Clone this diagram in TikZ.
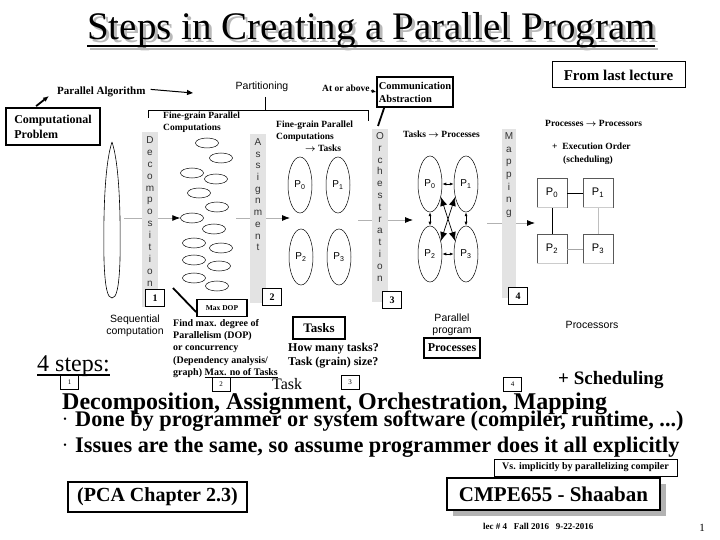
\documentclass[tikz,border=0pt]{standalone}
\usepackage{fontspec}
\setmainfont{Liberation Serif}
\setsansfont{Liberation Sans}
\usetikzlibrary{shapes.geometric,arrows.meta}
\newcommand\fsz[2]{\fontsize{#1}{#2}\selectfont}
\begin{document}
\begin{tikzpicture}[x=1pt,y=-1pt,
 bs/.style={font=\bfseries\fsz{10}{12},inner sep=0pt,align=left},
 sf/.style={font=\sffamily\fsz{10.5}{12},inner sep=0pt,align=center},
 colbar/.style={fill=gray!22,draw=none},
 colletter/.style={font=\sffamily\fsz{10}{12},inner sep=0pt,text=black!80,anchor=base},
 numbox/.style={draw,line width=0.8pt,font=\bfseries\fsz{10}{12},minimum width=19,minimum height=17,inner sep=0,fill=white},
 tinybox/.style={draw,line width=0.6pt,font=\fsz{7}{8},minimum width=18,minimum height=14,inner sep=0},
 smallell/.style={ellipse,draw,line width=0.5pt,minimum width=23,minimum height=10,inner sep=0},
 pell/.style={ellipse,draw,line width=0.5pt,minimum width=24,minimum height=56,inner sep=0,font=\sffamily\fsz{10}{12}},
 mbox/.style={draw=black!65,line width=0.6pt,minimum width=30,minimum height=29,inner sep=0,font=\sffamily\fsz{11}{12}},
 flow/.style={draw=gray!60,line width=0.8pt,-{Latex[length=8,width=6,color=black]}},
 thickbox/.style={draw,line width=1.8pt,inner sep=0},
 thinbox/.style={draw,line width=1pt,inner sep=0},
 blk/.style={line width=1.8pt,-{Latex[length=6,width=5]}}
]
\useasboundingbox (0,0) rectangle (720,540);

% ---- title ----
\node[anchor=base west,inner sep=0,text=gray!55,font=\fsz{39}{44}] (titsh) at (90,43) {Steps in Creating a Parallel Program};
\draw[gray!55,line width=2.5pt] (90,49) -- (658,49);
\node[anchor=base west,inner sep=0,font=\fsz{39}{44}] (title) at (87,40) {Steps in Creating a Parallel Program};
\draw[line width=2.5pt] (87,46) -- (655,46);

% ---- From last lecture ----
\node[thinbox,minimum width=133,minimum height=26,font=\bfseries\fsz{15}{17}] (flast) at (618.5,75) {From last lecture};

% ---- top labels ----
\node[bs,anchor=base west,font=\bfseries\fsz{11}{13}] (palg) at (57,95) {Parallel Algorithm};
\coordinate (palgE) at (193,93);
\draw[line width=1pt,-{Triangle[length=6,width=5]}] (palg.east) ++(5,-3) coordinate (palgS) -- (palgE);

\node[thickbox,minimum width=94,minimum height=37,align=left,font=\bfseries\fsz{12}{15}] (comp) at (53,126.5) {Computational\\Problem};
\coordinate (compT) at (49,96);
\draw[blk] (comp.north west) ++(31,-1) -- (compT);

\node[sf,anchor=base] (part) at (262,90) {Partitioning};
\coordinate (pt1) at (265,97);
\coordinate (pt2) at (265,110);
\draw[line width=0.7pt] (pt1) -- (pt2);
\draw[line width=0.7pt] (148,118) -- (148,110) -- (368,110) -- (368,121);

\node[bs,anchor=base west,font=\bfseries\fsz{9.5}{11}] (above) at (322,92) {At or above};
\node[thickbox,minimum width=76,minimum height=30,align=left,font=\bfseries\fsz{10.5}{13}] (comm) at (415,92) {Communication\\Abstraction};
\draw[line width=1.2pt,-{Latex[length=4,width=4]}] (above.east) ++(1,2) -- (comm.west);
\coordinate (orchT) at (378,126);
\draw[line width=1.8pt] (comm.south west) ++(8,0) -- (orchT);

% ---- sequential computation ----
\draw[line width=0.6pt] (112,142) .. controls (118,160) and (121,200) .. (120,260) .. controls (119,290) and (116,298) .. (112,298) .. controls (108,298) and (105,290) .. (104,260) .. controls (103,200) and (106,160) .. (112,142);
\coordinate (seqE) at (124,218);
\node[sf] (seqt) at (135,326) {Sequential\\computation};

% ---- decomposition ellipses ----
\foreach \n/\x/\y in {1/207/143,2/221/158,3/192/173,4/216/179,5/199/193,6/217/207,7/192/218,8/214/229,9/194/243,10/221/248,11/194/260,12/219/266,13/194/278,14/217/286}
  \node[smallell] (e\n) at (\x,\y) {};

% ---- flow lines (behind bars) ----
\draw[flow] (seqE) -- (e7.west);
\coordinate (dA) at (236,218);
\coordinate (dB) at (290,218);
\draw[flow] (dA) -- (dB);
\coordinate (oA) at (358,220);
\coordinate (oB) at (413,220);
\draw[flow] (oA) -- (oB);
\coordinate (mA) at (487,223);
\coordinate (mB) at (535,223);
\draw[flow] (mA) -- (mB);

% ---- bars ----
\fill[colbar] (142,132) rectangle (158,307);
\foreach \l [count=\i] in {D,e,c,o,m,p,o,s,i,t,i,o,n}
  \node[colletter] (dec\i) at (150,{143.5+(\i-1)*11.9}) {\l};
\node[numbox] (n1) at (155,298) {1};

\fill[colbar] (250,134) rectangle (266,303);
\foreach \l [count=\i] in {A,s,s,i,g,n,m,e,n,t}
  \node[colletter] (asg\i) at (258,{145.5+(\i-1)*11.7}) {\l};
\node[numbox] (n2) at (272,297) {2};

\fill[colbar] (372,129) rectangle (388,302);
\foreach \l [count=\i] in {O,r,c,h,e,s,t,r,a,t,i,o,n}
  \node[colletter] (orc\i) at (380,{139.5+(\i-1)*11.8}) {\l};
\node[numbox] (n3) at (392,300) {3};

\fill[colbar] (502,129) rectangle (516,298);
\foreach \l [count=\i] in {M,a,p,p,i,n,g}
  \node[colletter] (map\i) at (509,{139.5+(\i-1)*12.7}) {\l};
\node[numbox] (n4) at (518,296) {4};

% ---- fine-grain labels ----
\node[bs,anchor=north west,font=\bfseries\fsz{9.5}{12}] (fg1) at (163,112) {Fine-grain Parallel\\Computations};
\node[bs,anchor=north west,font=\bfseries\fsz{9.5}{11.5}] (fg2) at (276,121) {Fine-grain Parallel\\Computations};
\node[bs,anchor=base west,font=\bfseries\fsz{9.5}{11.5}] (fg2t) at (305,152) {{\boldmath$\rightarrow$} Tasks};
\node[bs,anchor=base west,font=\bfseries\fsz{9.5}{11.5}] (tp) at (403,138) {Tasks {\boldmath$\rightarrow$} Processes};
\node[bs,anchor=base west,font=\bfseries\fsz{9.5}{11.5}] (pp) at (545,127) {Processes {\boldmath$\rightarrow$} Processors};
\node[bs,anchor=base west,font=\bfseries\fsz{9.5}{11.5}] (exo) at (552,150) {+\ \ Execution Order};
\node[bs,anchor=base west,font=\bfseries\fsz{9.5}{11.5}] (sch) at (563,163) {(scheduling)};

% ---- assignment ellipses ----
\node[pell] (a0) at (300,185) {P\textsubscript{0}};
\node[pell] (a1) at (338,185) {P\textsubscript{1}};
\node[pell] (a2) at (301,257) {P\textsubscript{2}};
\node[pell] (a3) at (339,257) {P\textsubscript{3}};

% ---- orchestration ellipses ----
\node[pell] (b0) at (430,184) {P\textsubscript{0}};
\node[pell] (b1) at (466,184) {P\textsubscript{1}};
\node[pell] (b2) at (430,254) {P\textsubscript{2}};
\node[pell] (b3) at (466,254) {P\textsubscript{3}};
\draw[line width=0.7pt,{Latex[length=4,width=3]}-{Latex[length=4,width=3]}] (b0.east) -- (b1.west);
\draw[line width=0.7pt,{Latex[length=4,width=3]}-{Latex[length=4,width=3]}] (b2.east) -- (b3.west);
\draw[line width=0.7pt,{Latex[length=4,width=3]}-{Latex[length=4,width=3]}] (b0.south) -- (b2.north);
\draw[line width=0.7pt,{Latex[length=4,width=3]}-{Latex[length=4,width=3]}] (b1.south) -- (b3.north);
\draw[line width=0.7pt,{Latex[length=9,width=7]}-{Latex[length=9,width=7]}] (b0.-50) -- (b3.130);
\draw[line width=0.7pt,{Latex[length=9,width=7]}-{Latex[length=9,width=7]}] (b1.-130) -- (b2.50);

% ---- mapping boxes ----
\node[mbox] (m0) at (552,193) {P\textsubscript{0}};
\node[mbox] (m1) at (598,193) {P\textsubscript{1}};
\node[mbox] (m2) at (552,249) {P\textsubscript{2}};
\node[mbox] (m3) at (598,249) {P\textsubscript{3}};
\draw[line width=0.6pt] (m0) -- (m1);
\draw[line width=0.6pt] (m0) -- (m2);
\draw[line width=0.6pt,gray!70] (m2) -- (m3);
\draw[line width=0.6pt,gray!50] (m1) -- (m3);
\foreach \m in {m0,m1,m2,m3}
  \draw[gray!40,line width=1.2pt] (\m.south west) -- (\m.south east);

\node[sf,anchor=base] (procs) at (592,328) {Processors};
\node[sf] (parprog) at (452,325) {Parallel\\program};

% ---- lower boxes / texts ----
\node[thickbox,minimum width=50,minimum height=17,font=\bfseries\fsz{7.5}{9}] (maxdop) at (222,308) {Max DOP};
\coordinate (mdA) at (173,288);
\draw[line width=1.8pt] (mdA) -- ([yshift=-4pt]maxdop.west);

\node[bs,anchor=north west,font=\bfseries\fsz{10}{12.3}] (find) at (173,319) {Find max. degree of\\Parallelism (DOP)\\or concurrency\\(Dependency analysis/\\graph) \underline{Max. no of Tasks}};

\node[thickbox,minimum width=52,minimum height=22,font=\bfseries\fsz{13}{15}] (tasks) at (319,328) {Tasks};
\node[bs,anchor=north west,font=\bfseries\fsz{12}{14}] (howmany) at (288,343) {How many tasks?\\Task (grain) size?};
\node[thickbox,minimum width=56,minimum height=20,font=\bfseries\fsz{12}{14}] (processes) at (452,348) {Processes};

% ---- 4 steps ----
\node[anchor=base west,inner sep=0,font=\fsz{24}{28}] (steps) at (37,371) {4 steps:};
\draw[line width=2pt] (37,375) -- (110,375);
\node[tinybox] (t1) at (69.5,382.5) {1};
\node[tinybox] (t2) at (221,384.5) {2};
\node[tinybox] (t3) at (350,382) {3};
\node[tinybox] (t4) at (512.5,384) {4};
\node[anchor=base west,inner sep=0,font=\fsz{16}{18}] (task) at (272,389) {Task};
\node[anchor=base west,inner sep=0,font=\bfseries\fsz{19}{22}] (sched) at (558,384) {+ Scheduling};
\node[anchor=base west,inner sep=0,font=\bfseries\fsz{24}{28}] (decomp) at (62,409) {Decomposition, Assignment, Orchestration, Mapping};

% ---- bullets ----
\node[inner sep=0,font=\fsz{10}{11}] (bul1) at (65,420) {\textbullet};
\node[anchor=base west,inner sep=0,font=\bfseries\fsz{22.3}{26}] (line1) at (75,426) {Done by programmer or system software (compiler, runtime, ...)};
\node[inner sep=0,font=\fsz{10}{11}] (bul2) at (65,446) {\textbullet};
\node[anchor=base west,inner sep=0,font=\bfseries\fsz{22.3}{26}] (line2) at (75,452) {Issues are the same, so assume programmer does it all explicitly};

\node[thinbox,minimum width=183,minimum height=17,font=\bfseries\fsz{10}{12}] (vs) at (585.5,467.5) {Vs. implicitly by parallelizing compiler};
\node[draw,line width=1.5pt,minimum width=179,minimum height=30,inner sep=0,font=\bfseries\fsz{20}{24}] (pca) at (157.5,497) {(PCA Chapter 2.3)};
\fill[gray!60] (453,484) rectangle (666,516);
\node[draw,fill=white,line width=1.5pt,minimum width=213,minimum height=32,inner sep=0,font=\bfseries\fsz{21}{24}] (cmpe) at (553.5,494) {CMPE655 - Shaaban};
\node[anchor=base west,inner sep=0,font=\bfseries\fsz{9}{11}] (lec) at (483,529) {lec \# 4\ \ \ Fall 2016\ \ \ 9-22-2016};
\node[anchor=base,inner sep=0,font=\fsz{11}{12}] (pg) at (702,531) {1};
\end{tikzpicture}
\end{document}
